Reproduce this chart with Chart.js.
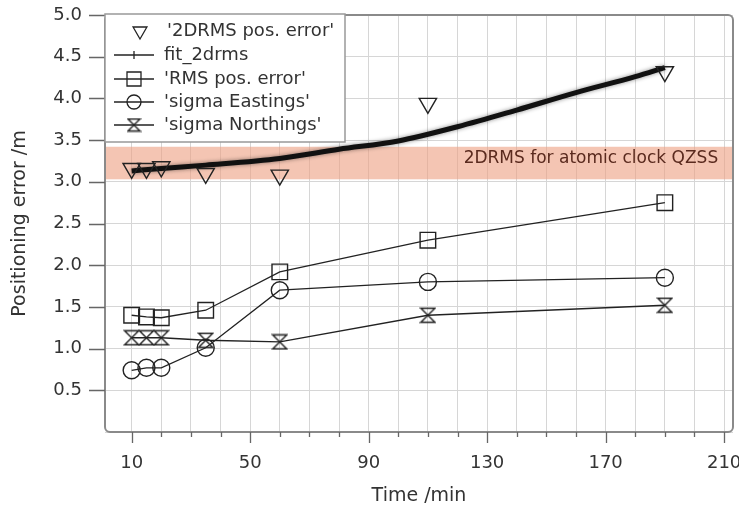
<!DOCTYPE html>
<html>
<head>
<meta charset="utf-8">
<script src="https://cdn.jsdelivr.net/npm/chart.js@4/dist/chart.umd.min.js"></script>
<style>
  html, body { margin: 0; background: #fff; overflow: hidden; }
  #wrap { width: 739px; height: 509px; position: relative; }
  canvas { display: block; }
</style>
</head>
<body>
<div id="wrap"><canvas id="err-chart"></canvas></div>
<script>
// measured points (time in minutes)
const timeMin = [10, 15, 20, 35, 60, 110, 190];
const drmsError = [3.16, 3.16, 3.18, 3.10, 3.08, 3.94, 4.32];
const rmsError = [1.40, 1.38, 1.37, 1.46, 1.92, 2.30, 2.75];
const sigmaEast = [0.74, 0.77, 0.77, 1.01, 1.70, 1.80, 1.85];
const sigmaNorth = [1.13, 1.13, 1.13, 1.10, 1.08, 1.40, 1.52];

// fitted 2drms curve
const fitTime = [10, 20, 35, 60, 80, 100, 120, 140, 160, 180, 190];
const fitDrms = [3.13, 3.16, 3.20, 3.28, 3.39, 3.49, 3.66, 3.86, 4.07, 4.26, 4.37];

const qzssBand = [3.03, 3.42];
const bandLabel = '2DRMS for atomic clock QZSS';
const xTickLabels = [10, 50, 90, 130, 170, 210];
const legendNames = ["'2DRMS pos. error'", 'fit_2drms', "'RMS pos. error'", "'sigma Eastings'", "'sigma Northings'"];

const ink = '#222';
const FONT = '"DejaVu Sans", Verdana, sans-serif';
Chart.defaults.font.family = FONT;
Chart.defaults.color = '#333';

const toPts = (xs, ys) => xs.map((x, i) => ({ x: x, y: ys[i] }));
const noPad = () => ({ left: 0, top: 0, right: 0, bottom: 0 });

function hourglass(size) {
  const c = document.createElement('canvas');
  c.width = size;
  c.height = size;
  const g = c.getContext('2d');
  g.strokeStyle = ink;
  g.lineWidth = 1.4;
  const a = 1.5, b = size - 1.5;
  g.beginPath();
  g.moveTo(a, a); g.lineTo(b, a); g.lineTo(a, b); g.lineTo(b, b);
  g.closePath();
  g.stroke();
  return c;
}
const hgPoint = hourglass(17);
const hgLegend = hourglass(15);

const markerBase = {
  borderColor: ink,
  backgroundColor: 'rgba(0,0,0,0)',
  pointBackgroundColor: 'rgba(0,0,0,0)',
  pointBorderColor: ink,
  pointBorderWidth: 1.4,
  borderWidth: 1.3,
  pointHoverRadius: 10,
  showLine: true,
};

const data = {
  datasets: [
    Object.assign({}, markerBase, {
      label: legendNames[0],
      data: toPts(timeMin, drmsError),
      showLine: false,
      pointStyle: 'triangle',
      pointRotation: 180,
      pointRadius: 10,
    }),
    {
      label: legendNames[1],
      data: toPts(fitTime, fitDrms),
      showLine: true,
      borderColor: '#111',
      borderWidth: 5,
      pointRadius: 0,
      cubicInterpolationMode: 'monotone',
    },
    Object.assign({}, markerBase, {
      label: legendNames[2],
      data: toPts(timeMin, rmsError),
      pointStyle: 'rect',
      pointRadius: 11,
    }),
    Object.assign({}, markerBase, {
      label: legendNames[3],
      data: toPts(timeMin, sigmaEast),
      pointStyle: 'circle',
      pointRadius: 8.5,
    }),
    Object.assign({}, markerBase, {
      label: legendNames[4],
      data: toPts(timeMin, sigmaNorth),
      pointStyle: hgPoint,
      pointRadius: 9,
    }),
  ]
};

// band, frame, tick marks and the boxed legend
const decor = {
  id: 'decor',
  beforeDatasetsDraw(chart) {
    const { ctx, chartArea: a, scales: { x, y } } = chart;
    const top = y.getPixelForValue(qzssBand[1]);
    const bot = y.getPixelForValue(qzssBand[0]);
    ctx.save();
    ctx.fillStyle = 'rgba(236,158,128,0.6)';
    ctx.fillRect(a.left, top, a.right - a.left, bot - top);
    ctx.fillStyle = '#5a2a1e';
    ctx.font = '17px ' + FONT;
    ctx.textAlign = 'right';
    ctx.textBaseline = 'middle';
    ctx.fillText(bandLabel, x.getPixelForValue(208), (top + bot) / 2 - 4);
    ctx.restore();
  },
  beforeDatasetDraw(chart, args) {
    if (args.index === 1) {
      chart.ctx.save();
      chart.ctx.shadowColor = 'rgba(0,0,0,0.45)';
      chart.ctx.shadowBlur = 4;
    }
  },
  afterDatasetDraw(chart, args) {
    if (args.index === 1) chart.ctx.restore();
  },
  afterDraw(chart) {
    const { ctx, chartArea: a, scales: { x, y } } = chart;
    ctx.save();
    // frame
    ctx.strokeStyle = '#8a8a8a';
    ctx.lineWidth = 2;
    ctx.beginPath();
    ctx.roundRect(a.left, a.top, a.right - a.left, a.bottom - a.top, 5);
    ctx.stroke();
    // tick marks
    ctx.strokeStyle = '#666';
    ctx.lineWidth = 1.3;
    ctx.beginPath();
    y.ticks.forEach(t => {
      if (t.value <= 0) return;
      const py = Math.round(y.getPixelForValue(t.value)) + 0.5;
      ctx.moveTo(a.left - 16, py);
      ctx.lineTo(a.left, py);
    });
    x.ticks.forEach(t => {
      const px = Math.round(x.getPixelForValue(t.value)) + 0.5;
      const len = xTickLabels.includes(t.value) ? 11 : 5;
      ctx.moveTo(px, a.bottom);
      ctx.lineTo(px, a.bottom + len);
    });
    ctx.stroke();

    // legend box
    const bx = a.left, by = 14, bw = 240, bh = 128;
    ctx.fillStyle = '#fff';
    ctx.fillRect(bx, by, bw, bh);
    ctx.strokeStyle = '#999';
    ctx.lineWidth = 1.5;
    ctx.strokeRect(bx, by, bw, bh);
    const rows = [31, 55, 79, 102, 125];
    const cx = 134;
    ctx.strokeStyle = ink;
    ctx.lineWidth = 1.3;
    rows.forEach((ry, i) => {
      if (i > 0) {
        ctx.beginPath();
        ctx.moveTo(114, ry);
        ctx.lineTo(154, ry);
        ctx.stroke();
      }
      ctx.beginPath();
      if (i === 0) {
        const r = 8, px = 140;
        ctx.moveTo(px - r * 0.866, ry - r / 2);
        ctx.lineTo(px + r * 0.866, ry - r / 2);
        ctx.lineTo(px, ry + r);
        ctx.closePath();
        ctx.stroke();
      } else if (i === 1) {
        ctx.moveTo(cx, ry - 4);
        ctx.lineTo(cx, ry + 4);
        ctx.stroke();
      } else if (i === 2) {
        ctx.rect(cx - 7, ry - 7, 14, 14);
        ctx.stroke();
      } else if (i === 3) {
        ctx.arc(cx, ry, 7, 0, Math.PI * 2);
        ctx.stroke();
      } else {
        ctx.drawImage(hgLegend, cx - 7.5, ry - 7.5);
      }
      ctx.fillStyle = '#333';
      ctx.font = '18px ' + FONT;
      ctx.textAlign = 'left';
      ctx.textBaseline = 'middle';
      ctx.fillText(legendNames[i], i === 0 ? 167 : 164, ry);
    });
    ctx.restore();
  }
};

const config = {
  type: 'scatter',
  data: data,
  plugins: [decor],
  options: {
    responsive: true,
    maintainAspectRatio: false,
    animation: false,
    layout: { autoPadding: false, padding: { top: 15, right: 6, left: 0, bottom: 0 } },
    scales: {
      x: {
        type: 'linear',
        min: 1,
        max: 213,
        afterBuildTicks: (s) => {
          const t = [];
          for (let v = 10; v <= 210; v += 10) t.push({ value: v });
          s.ticks = t;
        },
        afterFit: (s) => {
          s.height = 77;
          s.paddingLeft = 0;
          s.paddingRight = 0;
          s.getPadding = noPad;
        },
        border: { display: false },
        grid: { color: '#d6d6d6', lineWidth: 1, drawTicks: false },
        ticks: {
          autoSkip: false,
          maxRotation: 0,
          padding: 21,
          font: { size: 18 },
          color: '#333',
          callback: (v) => xTickLabels.includes(v) ? String(v) : '',
        },
        title: {
          display: true,
          text: 'Time /min',
          font: { size: 19 },
          color: '#333',
          padding: { top: 0, bottom: 2 },
        },
      },
      y: {
        min: 0,
        max: 5,
        afterFit: (s) => {
          s.width = 105;
          s.paddingTop = 0;
          s.paddingBottom = 0;
          s.getPadding = noPad;
        },
        border: { display: false },
        grid: { color: '#d6d6d6', lineWidth: 1, drawTicks: false },
        ticks: {
          stepSize: 0.5,
          padding: 23,
          font: { size: 18 },
          color: '#333',
          callback: (v) => v === 0 ? '' : v.toFixed(1),
        },
        title: {
          display: true,
          text: 'Positioning error /m',
          font: { size: 19 },
          color: '#333',
          padding: { top: 9, bottom: 0 },
        },
      }
    },
    plugins: {
      legend: { display: false },
      tooltip: { enabled: true },
    }
  }
};

const errChart = new Chart(document.getElementById('err-chart'), config);
</script>
</body>
</html>
